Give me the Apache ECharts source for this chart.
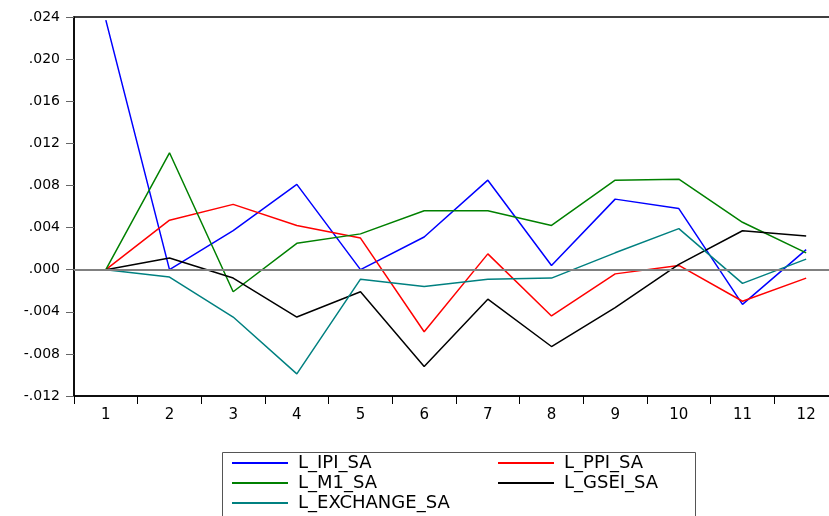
<!DOCTYPE html>
<html>
<head>
<meta charset="utf-8">
<script src="https://cdn.jsdelivr.net/npm/echarts@6/dist/echarts.min.js"></script>
<style>
  html, body { margin: 0; padding: 0; background: #fff; }
  #chart { width: 829px; height: 516px; }
</style>
</head>
<body>
<div id="chart"></div>
<script>
const periods = ['1', '2', '3', '4', '5', '6', '7', '8', '9', '10', '11', '12'];

const ipi = [0.0237, 0.0000, 0.0037, 0.0081, 0.0000, 0.0031, 0.0085, 0.0004, 0.0067, 0.0058, -0.0033, 0.0019];
const ppi = [0.0000, 0.0047, 0.0062, 0.0042, 0.0030, -0.0059, 0.0015, -0.0044, -0.0004, 0.0004, -0.0030, -0.0008];
const m1 = [0.0000, 0.0111, -0.0021, 0.0025, 0.0034, 0.0056, 0.0056, 0.0042, 0.0085, 0.0086, 0.0045, 0.0016];
const gsei = [0.0000, 0.0011, -0.0008, -0.0045, -0.0021, -0.0092, -0.0028, -0.0073, -0.0036, 0.0005, 0.0037, 0.0032];
const exchange = [0.0000, -0.0007, -0.0045, -0.0099, -0.0009, -0.0016, -0.0009, -0.0008, 0.0016, 0.0039, -0.0013, 0.0010];

const seriesNames = ['L_IPI_SA', 'L_PPI_SA', 'L_M1_SA', 'L_GSEI_SA', 'L_EXCHANGE_SA'];
const seriesValues = [ipi, ppi, m1, gsei, exchange];
const seriesColors = ['#0000ff', '#ff0000', '#008000', '#000000', '#008080'];

const font = 'DejaVu Sans';

const chart = echarts.init(document.getElementById('chart'));

const series = seriesNames.map((name, i) => {
  const s = {
    name: name,
    type: 'line',
    data: seriesValues[i],
    showSymbol: false,
    symbol: 'none',
    lineStyle: { color: seriesColors[i], width: 1.5 },
    itemStyle: { color: seriesColors[i] }
  };
  if (i === 0) {
    s.markLine = {
      silent: true,
      symbol: 'none',
      label: { show: false },
      lineStyle: { color: '#808080', width: 2, type: 'solid' },
      data: [{ yAxis: 0 }]
    };
  }
  return s;
});

const legendText = {
  fontFamily: font,
  fontSize: 18,
  color: '#000',
  lineHeight: 20,
  padding: [0, 0, 0, 5]
};

const legendBase = {
  orient: 'vertical',
  top: 453,
  padding: 0,
  height: 62,
  itemWidth: 56,
  itemHeight: 2,
  itemGap: 0,
  icon: 'rect',
  textStyle: legendText,
  selectedMode: false
};

chart.setOption({
  animation: false,
  backgroundColor: '#fff',
  grid: {
    left: 74,
    top: 17,
    width: 764,
    bottom: 120,
    outerBoundsMode: 'none',
    show: true,
    borderColor: '#000',
    borderWidth: 1.5,
    backgroundColor: 'transparent'
  },
  xAxis: {
    type: 'category',
    data: periods,
    boundaryGap: true,
    axisLine: { onZero: false, lineStyle: { color: '#000', width: 1.5 } },
    axisTick: { show: true, length: 8, lineStyle: { color: '#000' } },
    axisLabel: { color: '#000', fontFamily: font, fontSize: 15, margin: 12 },
    splitLine: { show: false }
  },
  yAxis: {
    type: 'value',
    min: -0.012,
    max: 0.024,
    interval: 0.004,
    axisLine: { show: true, lineStyle: { color: '#000', width: 1.5 } },
    axisTick: { show: true, length: 8, lineStyle: { color: '#666' } },
    splitLine: { show: false },
    axisLabel: {
      color: '#000',
      fontFamily: font,
      fontSize: 14,
      margin: 14,
      formatter: function (v) {
        if (Math.abs(v) < 1e-9) v = 0;
        return v.toFixed(3).replace('0.', '.');
      }
    }
  },
  legend: [
    Object.assign({}, legendBase, { left: 232, data: ['L_IPI_SA', 'L_M1_SA', 'L_EXCHANGE_SA'] }),
    Object.assign({}, legendBase, { left: 498, data: ['L_PPI_SA', 'L_GSEI_SA'] })
  ],
  graphic: [
    {
      type: 'rect',
      left: 220,
      top: 450,
      shape: { width: 473, height: 80 },
      style: { fill: 'none', stroke: '#555', lineWidth: 1 },
      silent: true
    }
  ],
  series: series
});
</script>
</body>
</html>
